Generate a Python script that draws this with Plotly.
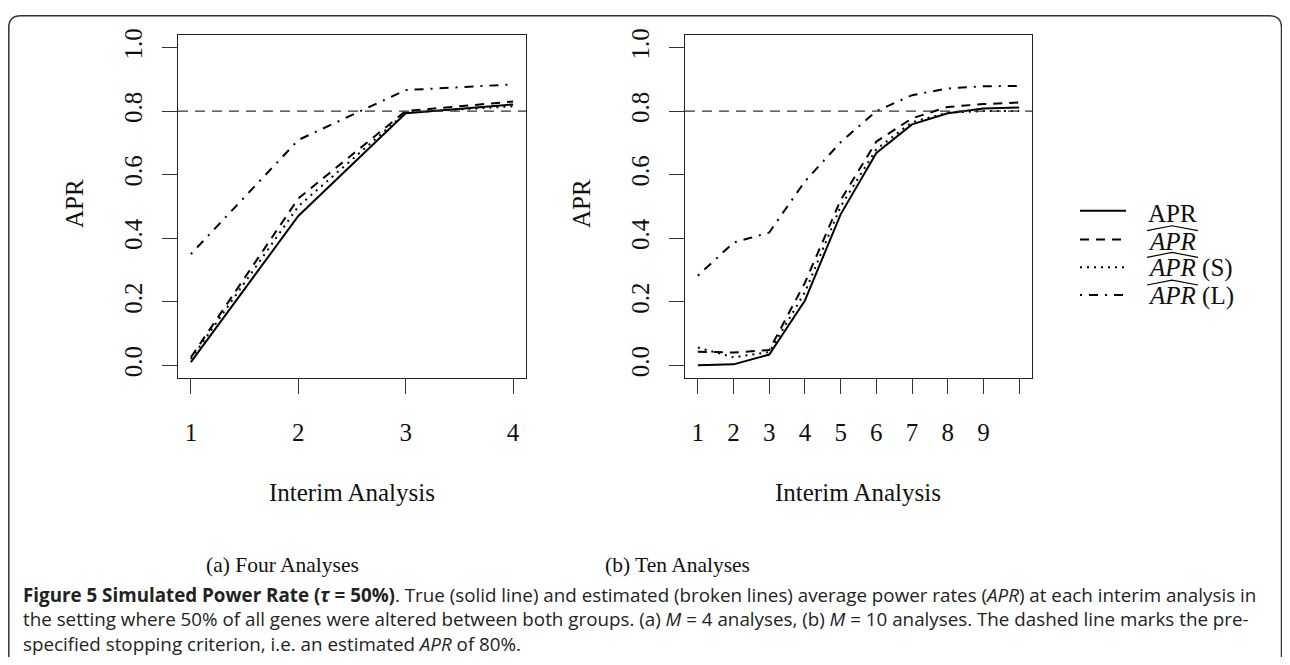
import plotly.graph_objects as go

# page offset compensation (browser default body margin)
OFF_X, OFF_Y = 8, 8
W, H = 1290 - 2 * OFF_X, 665 - 2 * OFF_Y

# ---------------- data ----------------
x_four = [1, 2, 3, 4]
apr_four = [0.01, 0.47, 0.793, 0.821]
aprhat_four = [0.025, 0.525, 0.80, 0.830]
aprhat_s_four = [0.02, 0.50, 0.795, 0.815]
aprhat_l_four = [0.35, 0.709, 0.866, 0.884]

x_ten = [1, 2, 3, 4, 5, 6, 7, 8, 9, 10]
apr_ten = [0.0, 0.003, 0.034, 0.204, 0.475, 0.668, 0.758, 0.793, 0.808, 0.811]
aprhat_ten = [0.043, 0.040, 0.048, 0.26, 0.52, 0.704, 0.777, 0.813, 0.822, 0.827]
aprhat_s_ten = [0.056, 0.025, 0.042, 0.23, 0.50, 0.68, 0.765, 0.795, 0.80, 0.80]
aprhat_l_ten = [0.282, 0.386, 0.418, 0.579, 0.702, 0.80, 0.85, 0.871, 0.878, 0.879]

y_ticks = [0.0, 0.2, 0.4, 0.6, 0.8, 1.0]
y_ticktext = ["0.0", "0.2", "0.4", "0.6", "0.8", "1.0"]
x_ticktext_four = ["1", "2", "3", "4"]
x_ticktext_ten = ["1", "2", "3", "4", "5", "6", "7", "8", "9", ""]
criterion = 0.8

series_names = ["APR", "APR-hat", "APR-hat (S)", "APR-hat (L)"]
# ---------------------------------------

def px(x):
    return (x - OFF_X) / W

def py(y):
    return 1 - (y - OFF_Y) / H

SERIF = "Liberation Serif, DejaVu Serif, serif"
SANS = "Open Sans, Noto Sans, sans-serif"

styles = [
    dict(color="black", width=2, dash="solid"),
    dict(color="black", width=2, dash="9px,7px"),
    dict(color="black", width=2, dash="2px,5px"),
    dict(color="black", width=2, dash="2px,7px,9px,7px"),
]

fig = go.Figure()

four = [apr_four, aprhat_four, aprhat_s_four, aprhat_l_four]
ten = [apr_ten, aprhat_ten, aprhat_s_ten, aprhat_l_ten]
for name, ys, st in zip(series_names, four, styles):
    fig.add_trace(go.Scatter(x=x_four, y=ys, mode="lines", name=name, line=st,
                             showlegend=False, xaxis="x", yaxis="y"))
for name, ys, st in zip(series_names, ten, styles):
    fig.add_trace(go.Scatter(x=x_ten, y=ys, mode="lines", name=name, line=st,
                             showlegend=False, xaxis="x2", yaxis="y2"))

box_top, box_bot = 28, 375
left_l, left_r = 178, 526
right_l, right_r = 685, 1032

axis_common = dict(
    showline=True, linecolor="#222", linewidth=1.3, mirror=True,
    ticks="outside", ticklen=15, tickwidth=1.2, tickcolor="#333",
    showgrid=False, zeroline=False,
    tickfont=dict(family=SERIF, size=25, color="#111"),
)

fig.update_layout(
    width=W, height=H,
    margin=dict(l=0, r=0, t=0, b=0),
    paper_bgcolor="white", plot_bgcolor="white",
    showlegend=False,
    xaxis=dict(domain=[px(left_l), px(left_r)], range=[0.88, 4.12],
               tickvals=x_four, ticktext=x_ticktext_four, anchor="y",
               ticklabelstandoff=17, **axis_common),
    yaxis=dict(domain=[py(box_bot), py(box_top)], range=[-0.04, 1.04],
               tickvals=y_ticks, ticktext=y_ticktext, tickangle=-90, anchor="x",
               ticklabelstandoff=10, **axis_common),
    xaxis2=dict(domain=[px(right_l), px(right_r)], range=[0.64, 10.36],
                tickvals=x_ten, ticktext=x_ticktext_ten, anchor="y2",
                ticklabelstandoff=17, **axis_common),
    yaxis2=dict(domain=[py(box_bot), py(box_top)], range=[-0.04, 1.04],
                tickvals=y_ticks, ticktext=y_ticktext, tickangle=-90, anchor="x2",
                ticklabelstandoff=10, **axis_common),
)

shapes = []
# criterion lines
for xr, yr in [("x domain", "y"), ("x2 domain", "y2")]:
    shapes.append(dict(type="line", xref=xr, yref=yr, x0=0, x1=1, y0=criterion, y1=criterion,
                       line=dict(color="#333", width=1.2, dash="10px,7px")))

# outer rounded border
x0, y0, x1, y1, r = 8.8, 8.8, 1281.5, 700, 12
path = (f"M {px(x0)},{py(y1)} L {px(x0)},{py(y0 + r)} "
        f"Q {px(x0)},{py(y0)} {px(x0 + r)},{py(y0)} "
        f"L {px(x1 - r)},{py(y0)} Q {px(x1)},{py(y0)} {px(x1)},{py(y0 + r)} "
        f"L {px(x1)},{py(y1)}")
shapes.append(dict(type="path", xref="paper", yref="paper", path=path,
                   line=dict(color="#333", width=1.5)))

# legend sample lines
leg_rows = [206, 235, 263, 291]
text_rows = [209, 237, 264, 292]
for yy, st in zip(leg_rows, styles):
    shapes.append(dict(type="line", xref="paper", yref="paper",
                       x0=px(1080), x1=px(1126), y0=py(yy), y1=py(yy),
                       line=st))

# hats over italic APR
for ty in text_rows[1:]:
    hy = ty - 14
    hp = (f"M {px(1147)},{py(hy + 3)} L {px(1172)},{py(hy - 2)} L {px(1198)},{py(hy + 3)}")
    shapes.append(dict(type="path", xref="paper", yref="paper", path=hp,
                       line=dict(color="black", width=1.1)))

fig.update_layout(shapes=shapes)

ann = []
def add_text(x, y, text, size, family=SERIF, xanchor="center", angle=0, color="#111"):
    ann.append(dict(x=px(x), y=py(y), xref="paper", yref="paper", text=text,
                    showarrow=False, xanchor=xanchor, yanchor="middle", align="left",
                    textangle=angle, font=dict(family=family, size=size, color=color)))

# axis titles
add_text(75, 199, "APR", 25, angle=-90)
add_text(582, 199, "APR", 25, angle=-90)
add_text(352, 491, "Interim Analysis", 25)
add_text(858, 491, "Interim Analysis", 25)

# legend texts
legend_labels = ["APR", "<i>APR</i>", "<i>APR</i> (S)", "<i>APR</i> (L)"]
for ty, lab in zip(text_rows, legend_labels):
    add_text(1146, ty, lab, 25, xanchor="left")

# subcaptions
add_text(282, 564, "(a) Four Analyses", 21.5)
add_text(677, 564, "(b) Ten Analyses", 21.5)

# caption (one multi-line text)
cap1 = ("<b>Figure 5 Simulated Power Rate (<i>τ</i> = 50%)</b>. True (solid line) and estimated "
        "(broken lines) average power rates (<i>APR</i>) at each interim analysis in")
cap2 = ("the setting where 50% of all genes were altered between both groups. (a) <i>M</i> = 4 "
        "analyses, (b) <i>M</i> = 10 analyses. The dashed line marks the pre-")
cap3 = "specified stopping criterion, i.e. an estimated <i>APR</i> of 80%."
add_text(21, 619, "<br>".join([cap1, cap2, cap3]), 18.8, family=SANS, xanchor="left", color="#222")

fig.update_layout(annotations=ann)

fig.write_html("out.html")
